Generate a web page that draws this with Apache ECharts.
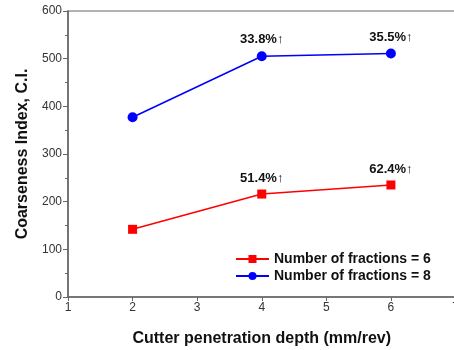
<!DOCTYPE html>
<html>
<head>
<meta charset="utf-8">
<script src="https://cdn.jsdelivr.net/npm/echarts@6/dist/echarts.min.js"></script>
<style>html,body{margin:0;padding:0;background:#fff}#c{width:454px;height:350px}</style>
</head>
<body>
<div id="c"></div>
<script>
const depths = [2, 4, 6];
const series6Name = 'Number of fractions = 6';
const series8Name = 'Number of fractions = 8';
const fractions6 = [142, 216, 235];
const fractions8 = [377, 505, 511];
const labels6 = ['', '51.4%', '62.4%'];
const labels8 = ['', '33.8%', '35.5%'];
const xTicks = [1, 2, 3, 4, 5, 6, 7];
const yTicks = [0, 100, 200, 300, 400, 500, 600];

const font = 'Arial, "Liberation Sans", sans-serif';
function pairs(vals) { return depths.map((d, i) => [d, vals[i]]); }
function labelCfg(arr) {
  return {
    show: true, position: 'top', distance: 5,
    formatter: p => arr[p.dataIndex] ? '{b|' + arr[p.dataIndex] + '}{a|↑}' : '',
    rich: {
      b: { fontFamily: font, fontWeight: 'bold', fontSize: 13, color: '#111' },
      a: { fontFamily: font, fontWeight: 'normal', fontSize: 13, color: '#111' }
    }
  };
}
const chart = echarts.init(document.getElementById('c'));
chart.setOption({
  animation: false,
  grid: { left: 68, right: -1.5, top: 11, bottom: 53, containLabel: false, outerBoundsMode: 'none', show: true, borderColor: '#666', borderWidth: 1.2, backgroundColor: 'transparent' },
  legend: {
    orient: 'vertical', left: 230, top: 247, itemWidth: 33, itemHeight: 10, itemGap: 3,
    textStyle: { fontFamily: font, fontWeight: 'bold', fontSize: 14, color: '#111' },
    data: [series6Name, series8Name]
  },
  xAxis: {
    type: 'value', min: xTicks[0], max: xTicks[xTicks.length - 1], interval: 1,
    name: 'Cutter penetration depth (mm/rev)', nameLocation: 'middle', nameGap: 34,
    nameTextStyle: { fontFamily: font, fontWeight: 'bold', fontSize: 16, color: '#111' },
    axisLine: { show: true, lineStyle: { color: '#666', width: 1.5 } },
    axisTick: { show: true, inside: false, length: 4, lineStyle: { color: '#666' } },
    axisLabel: { fontFamily: font, fontSize: 12, color: '#333', margin: 5 },
    splitLine: { show: false }
  },
  yAxis: {
    type: 'value', min: yTicks[0], max: yTicks[yTicks.length - 1], interval: 100,
    name: 'Coarseness Index, C.I.', nameLocation: 'middle', nameGap: 32, nameRotate: 90,
    nameTextStyle: { fontFamily: font, fontWeight: 'bold', fontSize: 16, color: '#111' },
    axisLine: { show: true, lineStyle: { color: '#666', width: 1.5 } },
    axisTick: { show: true, inside: false, length: 5, lineStyle: { color: '#666' } },
    minorTick: { show: true, splitNumber: 2, length: 3, lineStyle: { color: '#666' } },
    axisLabel: { fontFamily: font, fontSize: 12, color: '#333', margin: 6 },
    splitLine: { show: false }
  },
  series: [
    {
      name: series6Name, type: 'line', data: pairs(fractions6),
      symbol: 'rect', symbolSize: 9,
      itemStyle: { color: '#ff0000' }, lineStyle: { color: '#ff0000', width: 1.5 },
      label: labelCfg(labels6)
    },
    {
      name: series8Name, type: 'line', data: pairs(fractions8),
      symbol: 'circle', symbolSize: 10,
      itemStyle: { color: '#0000ff' }, lineStyle: { color: '#0000ff', width: 1.5 },
      label: labelCfg(labels8)
    }
  ]
});
</script>
</body>
</html>
